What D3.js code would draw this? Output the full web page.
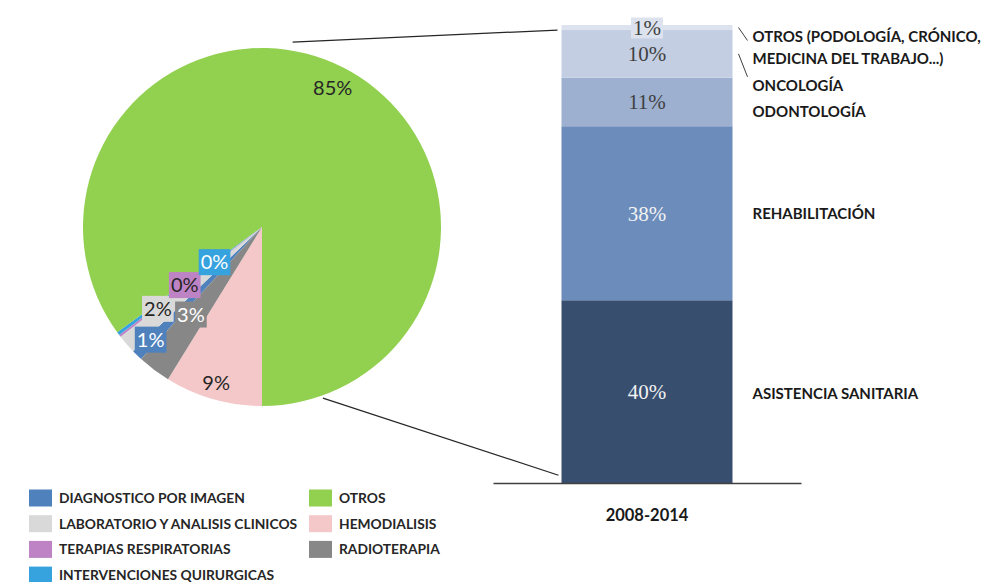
<!DOCTYPE html>
<html><head><meta charset="utf-8">
<script src="https://cdn.jsdelivr.net/npm/d3@7"></script>
<style>body{margin:0;background:#fff} svg{display:block}</style>
</head><body><svg id="c" width="985" height="582"></svg>
<script>
// ---------- data ----------
const pieCategories = ["DIAGNOSTICO POR IMAGEN","LABORATORIO Y ANALISIS CLINICOS","TERAPIAS RESPIRATORIAS","INTERVENCIONES QUIRURGICAS","OTROS","HEMODIALISIS","RADIOTERAPIA"];
const pieValues = [1.0, 1.7, 0.2, 0.3, 85.0, 8.8, 3.0];
const pieLabels = ["1%","2%","0%","0%","85%","9%","3%"];
const barPeriod = ["2008-2014"];
const barCategories = ["ASISTENCIA SANITARIA","REHABILITACIÓN","ODONTOLOGÍA","ONCOLOGÍA","OTROS (PODOLOGÍA, CRÓNICO,|MEDICINA DEL TRABAJO...)"];
const barValues = [39.9, 38.0, 10.6, 10.4, 1.1];
const barLabels = ["40%","38%","11%","10%","1%"];

// ---------- styles ----------
const pieColors = ["#4F81BD","#D9D9D9","#BE83C4","#36A2DE","#92D050","#F4C8C8","#878787"];
const pieLabelColors = ["#ffffff","#262626","#262626","#ffffff","#262626","#262626","#ffffff"];
const pieLabelBoxed = [true,true,true,true,false,false,true];
const pieLabelRadius = [0.885,0.74,0.54,0.33,0.87,0.905,0.63];
const pieLabelAngleShift = [0.4,2.7,0.5,0,0,0.6,2.0];
const barColors = ["#384E6E","#6C8DBB","#9DB0D0","#C3CEE2","#DDE3EE"];
const barLabelColors = ["#f2f2f2","#f2f2f2","#404040","#404040","#404040"];
const barSideOffset = [2, 0, 10, 32, 9];
const barLeader = [false, false, false, true, true];
const sansFont = "Lato, 'Open Sans', sans-serif";
const serifFont = "'Liberation Serif', 'DejaVu Serif', serif";

const svg = d3.select("#c");

// ---------- pie ----------
const cx = 262, cy = 227, R = 179;
const total = d3.sum(pieValues);
const hemoIndex = 5;
const before = d3.sum(pieValues.slice(0, hemoIndex));
const start = Math.PI - 2 * Math.PI * before / total;
const pie = d3.pie().sort(null).value(d => d).startAngle(start).endAngle(start + 2 * Math.PI);
const arcs = pie(pieValues);
const arc = d3.arc().innerRadius(0).outerRadius(R);
const gPie = svg.append("g").attr("transform", `translate(${cx},${cy})`);
gPie.selectAll("path").data(arcs).join("path")
  .attr("d", arc).attr("fill", (d, i) => pieColors[i]);

const polar = (a, r) => [Math.sin(a) * r, -Math.cos(a) * r];
const deg = Math.PI / 180;
arcs.forEach((d, i) => {
  const mid = (d.startAngle + d.endAngle) / 2 + pieLabelAngleShift[i] * deg;
  const [px, py] = polar(mid, R * pieLabelRadius[i]);
  const g = gPie.append("g").attr("transform", `translate(${px},${py})`);
  const t = g.append("text").text(pieLabels[i])
    .attr("text-anchor", "middle").attr("dy", "0.36em")
    .attr("font-family", sansFont).attr("font-size", 20)
    .attr("fill", pieLabelColors[i]);
  if (pieLabelBoxed[i]) {
    const bb = t.node().getBBox();
    g.insert("rect", "text")
      .attr("x", bb.x - 2).attr("y", -13).attr("width", bb.width + 4).attr("height", 26)
      .attr("fill", pieColors[i]);
  }
});

// ---------- bar ----------
const x = d3.scaleBand().domain(barPeriod).range([493, 801]).padding(0.286);
const y = d3.scaleLinear().domain([0, 100]).range([483, 25]);
const x0 = x(barPeriod[0]), bw = x.bandwidth();
const stack = [];
let acc = 0;
barValues.forEach((v, i) => { stack.push({ i, y0: acc, y1: acc + v }); acc += v; });

const gBar = svg.append("g");
gBar.selectAll("rect").data(stack).join("rect")
  .attr("x", x0).attr("width", bw)
  .attr("y", d => y(d.y1)).attr("height", d => y(d.y0) - y(d.y1))
  .attr("fill", d => barColors[d.i]);

// value labels
stack.forEach(d => {
  const my = (y(d.y0) + y(d.y1)) / 2;
  const g = gBar.append("g").attr("transform", `translate(${x0 + bw / 2},${my})`);
  const t = g.append("text").text(barLabels[d.i])
    .attr("text-anchor", "middle").attr("dy", "0.35em")
    .attr("font-family", serifFont).attr("font-size", 21)
    .attr("fill", barLabelColors[d.i]);
  if (d.i === barValues.length - 1) {
    const bb = t.node().getBBox();
    g.insert("rect", "text").attr("x", bb.x - 2).attr("y", -10).attr("width", bb.width + 4).attr("height", 21)
      .attr("fill", barColors[d.i]);
  }
});

// side category labels
const sideX = x0 + bw + 20;
stack.forEach(d => {
  const segMid = (y(d.y0) + y(d.y1)) / 2;
  const my = segMid + barSideOffset[d.i];
  const lines = barCategories[d.i].split("|");
  const t = svg.append("text")
    .attr("font-family", sansFont).attr("font-weight", 700).attr("font-size", 15)
    .attr("fill", "#1a1a1a");
  lines.forEach((ln, k) => {
    t.append("tspan").attr("x", sideX).attr("y", my + k * 22).attr("dy", "0.36em").text(ln);
  });
  if (barLeader[d.i]) {
    svg.append("line")
      .attr("x1", x0 + bw + 6).attr("y1", segMid)
      .attr("x2", x0 + bw + 15).attr("y2", my - (lines.length > 1 ? -4 : 9))
      .attr("stroke", "#404040").attr("stroke-width", 1);
  }
});

// axis
const axis = d3.axisBottom(x).tickSize(0).tickSizeOuter(0).tickPadding(26);
const gAx = svg.append("g").attr("transform", `translate(0,${y(0)})`).call(axis);
gAx.select(".domain").attr("stroke", "#404040").attr("stroke-width", 1.5);
gAx.selectAll("text").attr("font-family", sansFont).attr("font-weight", 700)
  .attr("font-size", 16.5).attr("fill", "#1a1a1a");

// connectors
const pTop = polar(9.4 * deg, R * 1.047);
const pBot = polar(160.4 * deg, R * 1.015);
svg.append("line").attr("x1", cx + pTop[0]).attr("y1", cy + pTop[1])
  .attr("x2", x0 - 4).attr("y2", y(98.9)).attr("stroke", "#262626").attr("stroke-width", 1.2);
svg.append("line").attr("x1", cx + pBot[0]).attr("y1", cy + pBot[1])
  .attr("x2", x0 - 3).attr("y2", y(1.7)).attr("stroke", "#262626").attr("stroke-width", 1.2);

// ---------- legend ----------
const legend = svg.append("g");
pieCategories.forEach((c, i) => {
  const col = i < 4 ? 0 : 1, row = i < 4 ? i : i - 4;
  const lx = 29 + col * 280, ly = 498 + row * 25.7;
  legend.append("rect").attr("x", lx).attr("y", ly - 8.5).attr("width", 23).attr("height", 17)
    .attr("fill", pieColors[i]);
  legend.append("text").attr("x", lx + 30).attr("y", ly).attr("dy", "0.36em")
    .attr("font-family", sansFont).attr("font-weight", 700).attr("font-size", 13.8)
    .attr("fill", "#262626").text(c);
});
</script></body></html>
